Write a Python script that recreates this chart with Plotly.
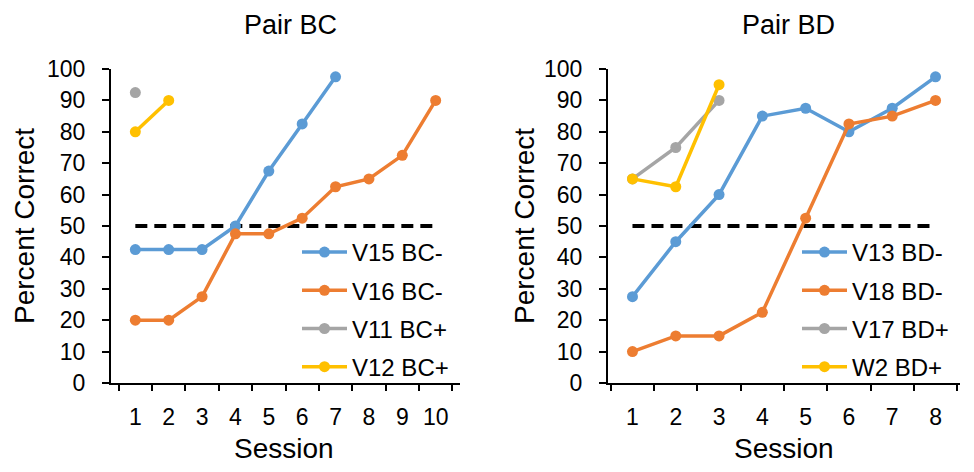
import plotly.graph_objects as go

# --- data ---
sessions_bc = [str(i) for i in range(1, 11)]
sessions_bd = [str(i) for i in range(1, 9)]

v15_bc = [42.5, 42.5, 42.5, 50, 67.5, 82.5, 97.5]
v16_bc = [20, 20, 27.5, 47.5, 47.5, 52.5, 62.5, 65, 72.5, 90]
v11_bc = [92.5]
v12_bc = [80, 90]

v13_bd = [27.5, 45, 60, 85, 87.5, 80, 87.5, 97.5]
v18_bd = [10, 15, 15, 22.5, 52.5, 82.5, 85, 90]
v17_bd = [65, 75, 90]
w2_bd = [65, 62.5, 95]

chance = 50

BLUE = '#5B9BD5'
ORANGE = '#ED7D31'
GRAY = '#A5A5A5'
YELLOW = '#FFC000'
FONT = 'Liberation Sans, Arial, sans-serif'

# the page body has an 8px margin, so the figure is a bit smaller than the window
W, H, OFF = 966, 464, 8


def fx(px):
    return (px - OFF) / W


def fy(py):
    return 1 - (py - OFF) / H


fig = go.Figure()


def add_series(name, x, y, color, xa, ya, legend):
    fig.add_trace(go.Scatter(
        x=x, y=y, name=name, mode='lines+markers',
        line=dict(color=color, width=3.5),
        marker=dict(color=color, size=11),
        xaxis=xa, yaxis=ya, legend=legend, legendgroup=name,
    ))


# chance lines first so they sit under the data
fig.add_trace(go.Scatter(x=[sessions_bc[0], sessions_bc[-1]], y=[chance, chance], mode='lines',
                         line=dict(color='black', width=4, dash='12px,7px'),
                         showlegend=False, hoverinfo='skip', xaxis='x', yaxis='y'))
fig.add_trace(go.Scatter(x=[sessions_bd[0], sessions_bd[-1]], y=[chance, chance], mode='lines',
                         line=dict(color='black', width=4, dash='12px,7px'),
                         showlegend=False, hoverinfo='skip', xaxis='x2', yaxis='y2'))

add_series('V15 BC-', sessions_bc[:len(v15_bc)], v15_bc, BLUE, 'x', 'y', 'legend')
add_series('V16 BC-', sessions_bc[:len(v16_bc)], v16_bc, ORANGE, 'x', 'y', 'legend')
add_series('V11 BC+', sessions_bc[:len(v11_bc)], v11_bc, GRAY, 'x', 'y', 'legend')
add_series('V12 BC+', sessions_bc[:len(v12_bc)], v12_bc, YELLOW, 'x', 'y', 'legend')

add_series('V13 BD-', sessions_bd[:len(v13_bd)], v13_bd, BLUE, 'x2', 'y2', 'legend2')
add_series('V18 BD-', sessions_bd[:len(v18_bd)], v18_bd, ORANGE, 'x2', 'y2', 'legend2')
add_series('V17 BD+', sessions_bd[:len(v17_bd)], v17_bd, GRAY, 'x2', 'y2', 'legend2')
add_series('W2 BD+', sessions_bd[:len(w2_bd)], w2_bd, YELLOW, 'x2', 'y2', 'legend2')

xstyle = dict(type='category', tickson='boundaries', ticks='outside', ticklen=6, tickwidth=2,
              tickcolor='black', showline=True, linecolor='black', linewidth=2, showgrid=False,
              zeroline=False, tickfont=dict(size=23, color='black'), ticklabelstandoff=12,
              tickangle=0, automargin=False, fixedrange=True)
ystyle = dict(range=[0, 100], dtick=10, ticks='outside', ticklen=7, tickwidth=2,
              tickcolor='black', showline=True, linecolor='black', linewidth=2, showgrid=False,
              zeroline=False, tickfont=dict(size=23, color='black'), ticklabelstandoff=12,
              automargin=False, fixedrange=True)

ydom = [fy(383), fy(69)]
legend_style = dict(font=dict(size=24, color='black'), bgcolor='rgba(0,0,0,0)',
                    xanchor='left', yanchor='top', tracegroupgap=4, itemwidth=45)


def label(text, px, py, size, angle=0):
    return dict(text=text, x=fx(px), y=fy(py), xref='paper', yref='paper',
                xanchor='center', yanchor='middle', showarrow=False, textangle=angle,
                font=dict(size=size, color='black'))


fig.update_layout(
    template='none',
    width=W, height=H,
    margin=dict(l=0, r=0, t=0, b=0, autoexpand=False),
    paper_bgcolor='white', plot_bgcolor='white',
    font=dict(family=FONT, color='black'),
    xaxis=dict(domain=[fx(111), fx(460)], categoryarray=sessions_bc, anchor='y', **xstyle),
    yaxis=dict(domain=ydom, anchor='x', **ystyle),
    xaxis2=dict(domain=[fx(608), fx(960)], categoryarray=sessions_bd, anchor='y2', **xstyle),
    yaxis2=dict(domain=ydom, anchor='x2', **ystyle),
    legend=dict(x=fx(297), y=fy(230), **legend_style),
    legend2=dict(x=fx(797), y=fy(230), **legend_style),
    annotations=[
        label('Pair BC', 290, 25, 27),
        label('Pair BD', 788, 25, 27),
        label('Percent Correct', 24, 226, 28, -90),
        label('Percent Correct', 524, 226, 28, -90),
        label('Session', 284, 448, 28),
        label('Session', 784, 448, 28),
    ],
)

fig.write_html('out.html')
